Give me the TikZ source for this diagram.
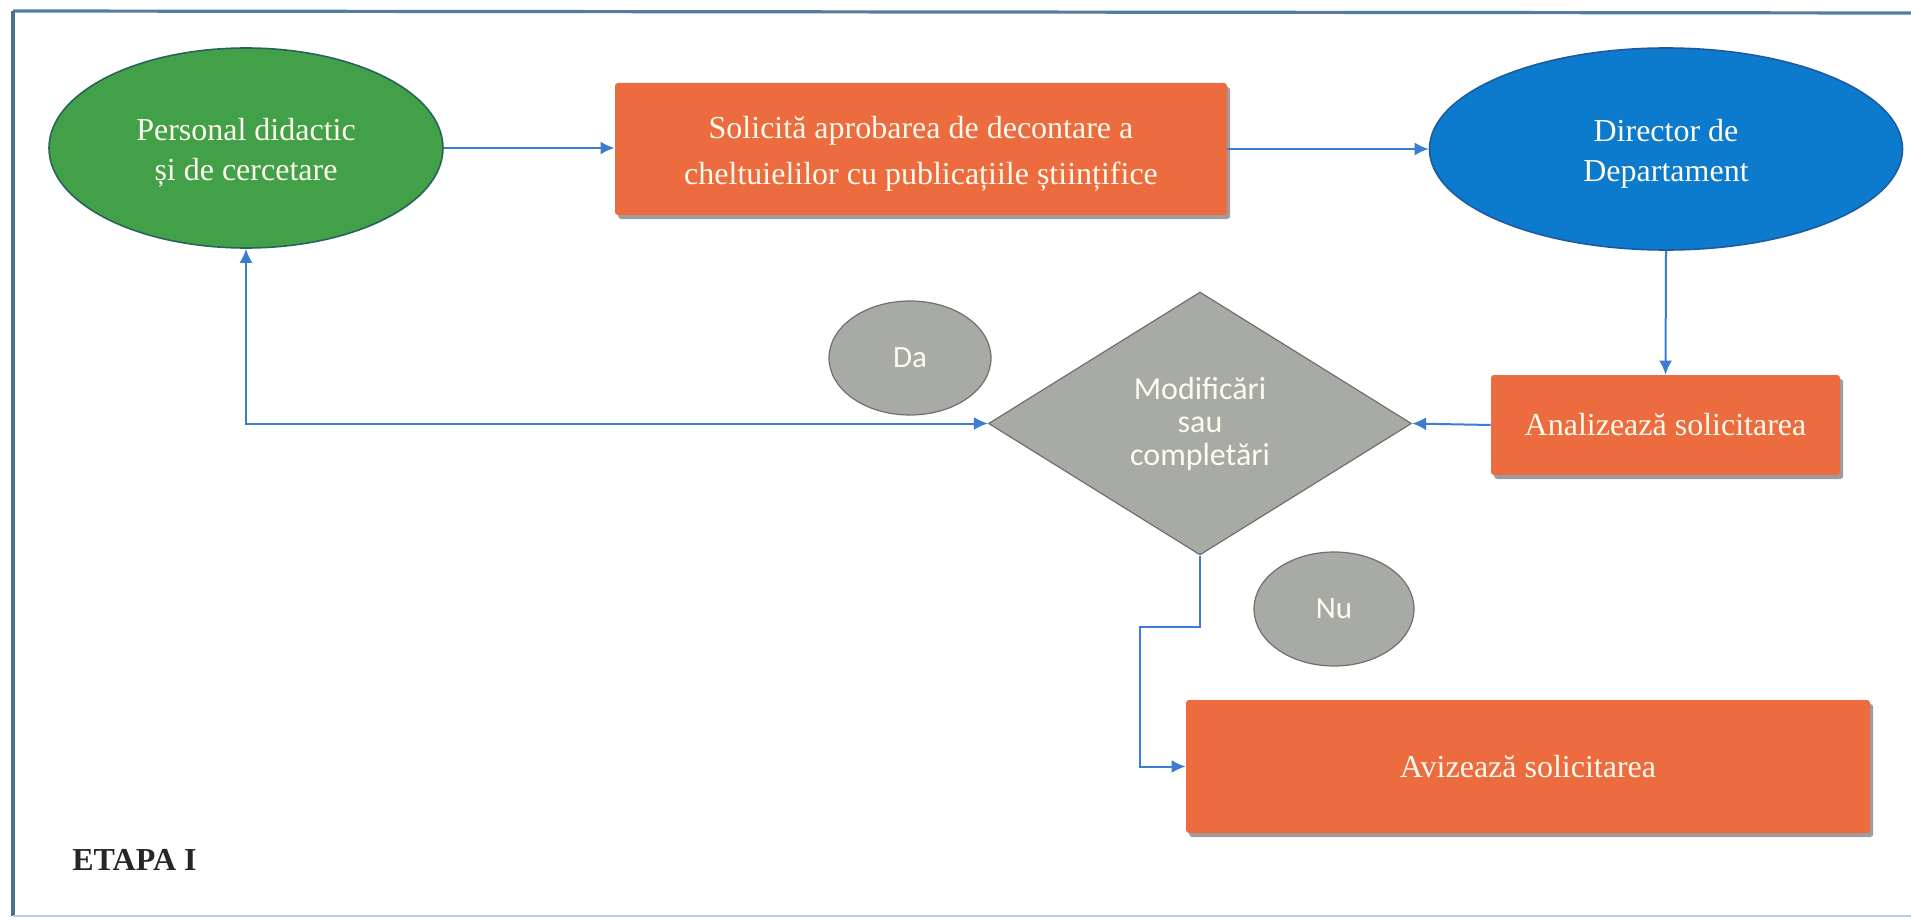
\documentclass[tikz,border=0pt]{standalone}
\usepackage{fontspec}
\setmainfont{Liberation Serif}
\newfontfamily\calib{Carlito}
\usetikzlibrary{shapes.geometric,arrows.meta,shadows}
\definecolor{frm}{RGB}{84,124,160}
\definecolor{conn}{RGB}{58,125,210}
\definecolor{grn}{RGB}{66,160,72}
\definecolor{grnb}{RGB}{40,100,90}
\definecolor{blu}{RGB}{12,122,205}
\definecolor{blub}{RGB}{30,90,160}
\definecolor{org}{RGB}{236,108,64}
\definecolor{gry}{RGB}{168,170,165}
\definecolor{gryb}{RGB}{110,112,110}
\definecolor{txtw}{RGB}{255,250,238}
\newcommand{\lowstrut}{\rule{0pt}{16pt}}
\tikzset{
  ovalbox/.style={ellipse, inner sep=0pt, text=txtw, align=center, font=\fontsize{16}{20}\selectfont, line width=0.8pt},
  orgbox/.style={rectangle, rounded corners=1.5pt, fill=org, inner sep=0pt, text=txtw, align=center,
     font=\fontsize{16}{23}\selectfont,
     drop shadow={shadow xshift=1.6pt, shadow yshift=-2pt, fill=black!70, opacity=0.55}},
  graybub/.style={ellipse, fill=gry, draw=gryb, line width=0.6pt, inner sep=0pt, text=txtw,
     font=\calib\fontsize{15.5}{18}\selectfont},
  conn/.style={draw=conn, line width=1pt, -{Latex[length=7pt,width=6.5pt]}},
}
\begin{document}
\begin{tikzpicture}[x=0.5pt,y=-0.5pt]
\useasboundingbox (0,0) rectangle (1911,920);
\draw[frm, line width=1.6pt] (13,11) -- (1911,13);
\draw[frm!90!black, line width=1.8pt] (13,11) -- (13,916);
\draw[frm!40, line width=1pt] (13,916) -- (1911,916);

\node[ovalbox, fill=grn, draw=grnb, minimum width=197pt, minimum height=100pt] (pers) at (246,148)
  {\lowstrut Personal didactic\\și de cercetare};
\node[orgbox, minimum width=306pt, minimum height=66pt] (req) at (921,149)
  {\lowstrut Solicită aprobarea de decontare a\\cheltuielilor cu publicațiile științifice};
\node[ovalbox, fill=blu, draw=blub, minimum width=236.5pt, minimum height=101pt] (dir) at (1666,149)
  {\lowstrut Director de\\Departament};
\node[orgbox, minimum width=174.5pt, minimum height=50pt] (anal) at (1665.5,425)
  {Analizează solicitarea};
\node[diamond, fill=gry, draw=gryb, line width=0.6pt, inner sep=0pt, minimum width=211.5pt, minimum height=131.5pt,
  text=txtw, align=center, font=\calib\fontsize{16}{16.5}\selectfont] (dec) at (1200,423.5)
  {Modificări\\sau\\completări};
\node[graybub, minimum width=81pt, minimum height=57pt] (da) at (910,358) {Da};
\node[graybub, minimum width=80pt, minimum height=57pt] (nu) at (1334,609) {Nu};
\node[orgbox, minimum width=342pt, minimum height=66.5pt] (aviz) at (1528,766.5)
  {Avizează solicitarea};
\node[anchor=base west, inner sep=0pt, font=\bfseries\fontsize{16}{18}\selectfont, text=black!85] (etapa) at (72,870) {ETAPA I};
\coordinate (k1) at (1140,627);

\draw[conn] (pers.east) -- (pers.east -| req.west);
\draw[conn] (req.east) -- (req.east -| dir.west);
\draw[conn] (dir.south) -- (anal.north);
\draw[conn] (anal.west) -- (dec.east);
\draw[conn, {Latex[length=7pt,width=6.5pt]}-{Latex[length=7pt,width=6.5pt]}] (pers.south) |- (dec.west);
\draw[conn] (dec.south) |- (k1) |- (aviz.west);
\end{tikzpicture}
\end{document}
